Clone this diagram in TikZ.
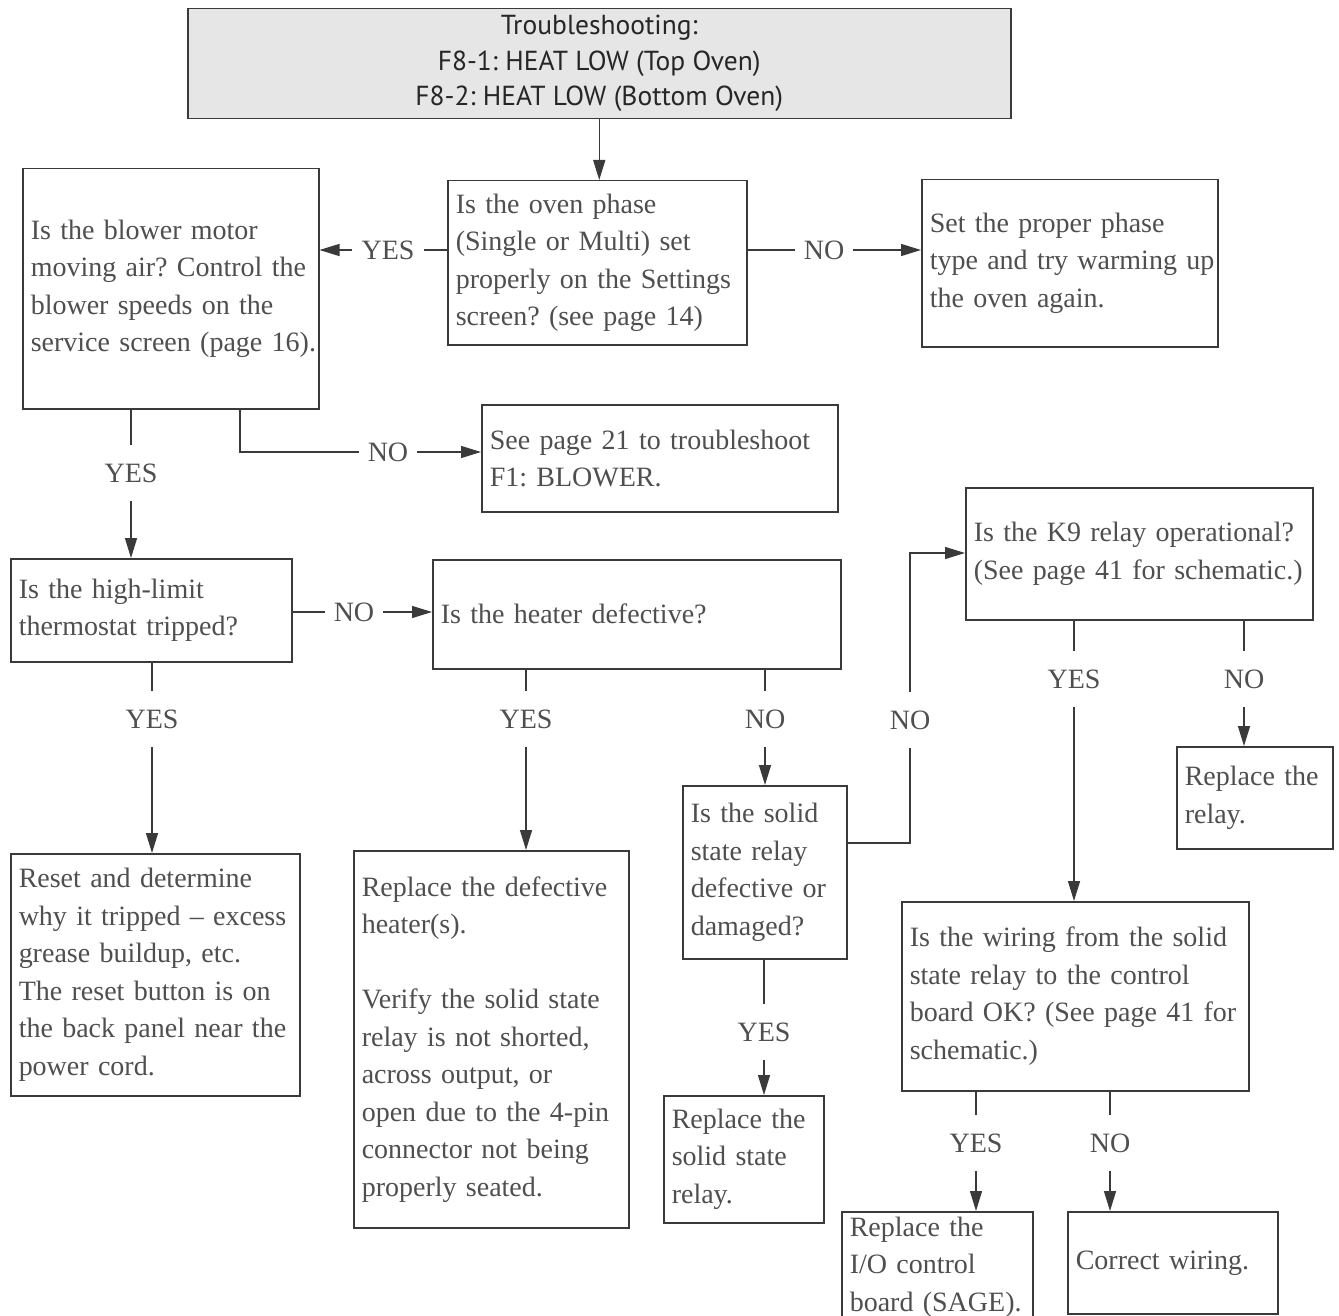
\documentclass[tikz,border=0pt]{standalone}
\usepackage{fontspec}
\setmainfont{Liberation Serif}
\newfontfamily\titlefont{PT Sans}
\usetikzlibrary{arrows.meta,calc}
\definecolor{txt}{HTML}{4F4F4F}
\definecolor{ln}{HTML}{3A3A3A}
\definecolor{titlefill}{HTML}{E6E6E6}
\frenchspacing
\tikzset{
  box/.style={draw=ln, line width=1.5pt, text=txt, inner xsep=8pt, inner ysep=0pt,
    anchor=north west, align=left, font=\fontsize{28}{37.5}\selectfont},
  titlebox/.style={draw=ln, line width=1.5pt, fill=titlefill, text=black!85, align=center,
    anchor=north west, font=\titlefont\fontsize{27.5}{35.5}\selectfont},
  lbl/.style={text=txt, font=\fontsize{28}{37.5}\selectfont, inner xsep=9pt, inner ysep=19pt,
    text height=18pt, text depth=0pt},
  conn/.style={draw=ln, line width=1.4pt},
  arr/.style={conn, -{Triangle[length=20pt,width=12pt]}}
}
\newcommand{\mkbox}[6]{%
  \pgfmathsetmacro\bw{#4-#2}\pgfmathsetmacro\bh{#5-#3}\pgfmathsetmacro\tw{#4-#2-16}%
  \node[box, minimum width=\bw pt, minimum height=\bh pt, text width=\tw pt] (#1) at (#2,#3) {#6};}
\begin{document}
\begin{tikzpicture}[x=1pt,y=-1pt]
\fill[white] (0,0) rectangle (1339,1316);
\clip (0,0) rectangle (1339,1316);

\node[titlebox, minimum width=823pt, minimum height=110pt] (title) at (187,8)
  {Troubleshooting:\\F8-1: HEAT LOW (Top Oven)\\F8-2: HEAT LOW (Bottom Oven)};

\mkbox{oven}{447}{180}{746}{344}{\mbox{Is the oven phase}\\\mbox{(Single or Multi) set}\\\mbox{properly on the Settings}\\\mbox{screen? (see page 14)}}
\mkbox{blower}{22}{168}{318}{408}{\mbox{Is the blower motor}\\\mbox{moving air? Control the}\\\mbox{blower speeds on the}\\\mbox{service screen (page 16).}}
\mkbox{phase}{921}{179}{1217}{346}{\mbox{Set the proper phase}\\\mbox{type and try warming up}\\\mbox{the oven again.}}
\mkbox{page21}{481}{404}{837}{511}{\mbox{See page 21 to troubleshoot}\\\mbox{F1: BLOWER.}}
\mkbox{highlimit}{10}{558}{291}{661}{\mbox{Is the high-limit}\\\mbox{thermostat tripped?}}
\mkbox{heater}{432}{559}{840}{668}{\mbox{Is the heater defective?}}
\mkbox{reset}{10}{853}{299}{1095}{\mbox{Reset and determine}\\\mbox{why it tripped -- excess}\\\mbox{grease buildup, etc.}\\\mbox{The reset button is on}\\\mbox{the back panel near the}\\\mbox{power cord.}}
\mkbox{rheater}{353}{850}{628}{1227}{\mbox{Replace the defective}\\\mbox{heater(s).}\\[37.5pt]\mbox{Verify the solid state}\\\mbox{relay is not shorted,}\\\mbox{across output, or}\\\mbox{open due to the 4-pin}\\\mbox{connector not being}\\\mbox{properly seated.}}
\mkbox{solid}{682}{785}{846}{958}{\mbox{Is the solid}\\\mbox{state relay}\\\mbox{defective or}\\\mbox{damaged?}}
\mkbox{k9}{965}{487}{1312}{619}{\mbox{Is the K9 relay operational?}\\\mbox{(See page 41 for schematic.)}}
\mkbox{relay}{1176}{746}{1332}{848}{\mbox{Replace the}\\\mbox{relay.}}
\mkbox{rssr}{663}{1095}{823}{1222}{\mbox{Replace the}\\\mbox{solid state}\\\mbox{relay.}}
\mkbox{wiring}{901}{901}{1248}{1090}{\mbox{Is the wiring from the solid}\\\mbox{state relay to the control}\\\mbox{board OK? (See page 41 for}\\\mbox{schematic.)}}
\mkbox{io}{841}{1211}{1032}{1322}{\mbox{Replace the}\\\mbox{I/O control}\\\mbox{board (SAGE).}}
\mkbox{correct}{1067}{1211}{1277}{1313}{\mbox{Correct wiring.}}

% labels
\node[lbl] (y1) at (388,250) {YES};
\node[lbl] (n1) at (824,250) {NO};
\node[lbl] (y2) at (131,473) {YES};
\node[lbl] (n2) at (388,452) {NO};
\node[lbl] (n3) at (354,612) {NO};
\node[lbl] (y3) at (152,719) {YES};
\node[lbl] (y4) at (526,719) {YES};
\node[lbl] (n4) at (765,719) {NO};
\node[lbl] (n5) at (910,720) {NO};
\node[lbl] (y5) at (1074,679) {YES};
\node[lbl] (n6) at (1244,679) {NO};
\node[lbl] (y6) at (764,1032) {YES};
\node[lbl] (y7) at (976,1143) {YES};
\node[lbl] (n7) at (1110,1143) {NO};

\coordinate (c1) at (240,452);
\coordinate (c2) at (910,843);
\coordinate (c3) at (910,553);

% connectors
\draw[arr] (title.south) -- (title.south |- oven.north);
\draw[conn] (oven.west |- y1) -- (y1);
\draw[arr] (y1) -- (blower.east |- y1);
\draw[conn] (oven.east |- n1) -- (n1);
\draw[arr] (n1) -- (phase.west |- n1);
\draw[conn] (blower.south -| y2) -- (y2);
\draw[arr] (y2) -- (highlimit.north -| y2);
\draw[conn] (blower.south -| c1) -- (c1) -- (n2);
\draw[arr] (n2) -- (page21.west |- n2);
\draw[conn] (highlimit.east |- n3) -- (n3);
\draw[arr] (n3) -- (heater.west |- n3);
\draw[conn] (highlimit.south -| y3) -- (y3);
\draw[arr] (y3) -- (reset.north -| y3);
\draw[conn] (heater.south -| y4) -- (y4);
\draw[arr] (y4) -- (rheater.north -| y4);
\draw[conn] (heater.south -| n4) -- (n4);
\draw[arr] (n4) -- (solid.north -| n4);
\draw[conn] (solid.east |- c2) -- (c2) -- (n5);
\draw[arr] (n5) -- (c3) -- (k9.west |- c3);
\draw[conn] (k9.south -| y5) -- (y5);
\draw[arr] (y5) -- (wiring.north -| y5);
\draw[conn] (k9.south -| n6) -- (n6);
\draw[arr] (n6) -- (relay.north -| n6);
\draw[conn] (solid.south -| y6) -- (y6);
\draw[arr] (y6) -- (rssr.north -| y6);
\draw[conn] (wiring.south -| y7) -- (y7);
\draw[arr] (y7) -- (io.north -| y7);
\draw[conn] (wiring.south -| n7) -- (n7);
\draw[arr] (n7) -- (correct.north -| n7);
\end{tikzpicture}
\end{document}
